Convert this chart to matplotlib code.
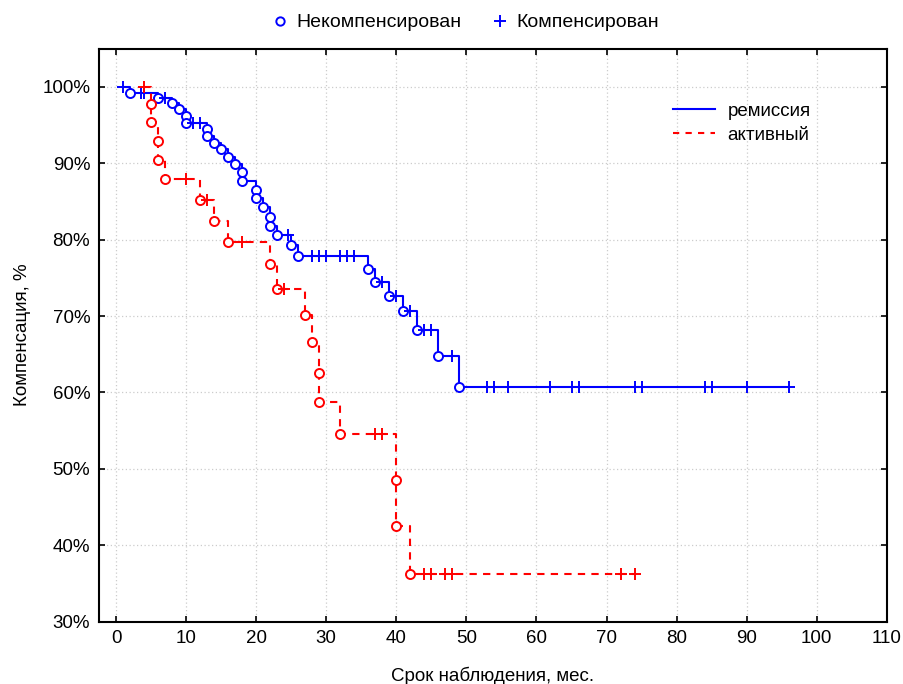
import numpy as np
import matplotlib.pyplot as plt
from matplotlib.lines import Line2D

plt.rcParams["font.family"] = ["Liberation Sans", "DejaVu Sans"]

# ремиссия (blue): event times and survival (%) after each event
blue_start, blue_end = 1, 96
blue_event_t = [2, 6, 8, 9, 10, 10, 13, 13, 14, 15, 16, 17, 18, 18, 20, 20, 21,
                22, 22, 23, 25, 26, 36, 37, 39, 41, 43, 46, 49]
blue_event_s = [99.25, 98.5, 97.85, 97.1, 96.2, 95.3, 94.45, 93.6, 92.7, 91.8,
                90.8, 89.9, 88.8, 87.7, 86.5, 85.5, 84.3, 83.0, 81.8, 80.6,
                79.3, 77.8, 76.2, 74.5, 72.6, 70.7, 68.2, 64.8, 60.7]
blue_cens_t = [1, 3.5, 4, 7, 11, 12, 24.5, 28, 29, 30, 32, 33, 34, 38, 40, 42,
               44, 45, 48, 53, 54, 56, 62, 65, 66, 74, 75, 84, 85, 90, 96]

# активный (red)
red_start, red_end = 4, 74
red_event_t = [5, 5, 6, 6, 7, 12, 14, 16, 22, 23, 27, 28, 29, 29, 32, 40, 40, 42]
red_event_s = [97.7, 95.45, 92.9, 90.4, 87.9, 85.2, 82.5, 79.7, 76.8, 73.6,
               70.1, 66.6, 62.6, 58.8, 54.6, 48.5, 42.5, 36.3]
red_cens_t = [4, 10, 13, 18, 24, 37, 38, 44, 45, 47, 48, 72, 74]

x_ticks = np.arange(0, 111, 10)
y_ticks = np.arange(30, 101, 10)


def draw_curve(ax, start, end, ev_t, ev_s, cens_t, color, ls):
    t = np.array([start] + ev_t + [end], dtype=float)
    s = np.array([100.0] + ev_s + [ev_s[-1]])
    ax.step(t, s, where="post", color=color, linestyle=ls, lw=1.5, zorder=3)
    ax.plot(ev_t, ev_s, "o", mfc="white", mec=color, mew=1.4, ms=6.5,
            ls="none", zorder=4)
    idx = np.searchsorted(np.array(ev_t), cens_t, side="right")
    levels = np.array([100.0] + ev_s)[idx]
    ax.plot(cens_t, levels, "+", color=color, mew=1.4, ms=9, ls="none",
            zorder=4)


fig = plt.figure(figsize=(9.04, 6.84), dpi=100)
ax = fig.add_axes([0.109, 0.091, 0.872, 0.838])

draw_curve(ax, blue_start, blue_end, blue_event_t, blue_event_s, blue_cens_t,
           "#0000ff", "-")
draw_curve(ax, red_start, red_end, red_event_t, red_event_s, red_cens_t,
           "#ff0000", (0, (3.5, 3)))

ax.set_xlim(-2.5, 110)
ax.set_ylim(30, 105)
ax.set_xticks(x_ticks)
ax.set_yticks(y_ticks)
ax.set_yticklabels([f"{v}%" for v in y_ticks])
ax.grid(True, color="#cccccc", linestyle=(0, (1, 2)), lw=0.9)
ax.tick_params(direction="in", length=4, width=1.2, labelsize=13.5,
               top=True, right=True, pad=6)
for sp in ax.spines.values():
    sp.set_linewidth(1.5)

ax.set_xlabel("Срок наблюдения, мес.", fontsize=13.5, labelpad=14)
ax.set_ylabel("Компенсация, %", fontsize=13.5, labelpad=8)

line_handles = [Line2D([], [], color="#0000ff", lw=1.5),
                Line2D([], [], color="#ff0000", lw=1.5, ls=(0, (3, 3)))]
ax.legend(line_handles, ["ремиссия", "активный"], loc="upper right",
          bbox_to_anchor=(0.925, 0.935), frameon=False, fontsize=13.5,
          handlelength=2.2, labelspacing=0.35, handletextpad=0.7)

mark_handles = [Line2D([], [], marker="o", mfc="white", mec="#0000ff", mew=1.4,
                       ms=6, ls="none"),
                Line2D([], [], marker="+", color="#0000ff", mew=1.4, ms=8,
                       ls="none")]
fig.legend(mark_handles, ["Некомпенсирован", "Компенсирован"], ncol=2,
           loc="center", bbox_to_anchor=(0.514, 0.967), frameon=False,
           fontsize=14, columnspacing=1.5, handlelength=1.0,
           handletextpad=0.35)

fig.savefig("out.png", dpi=100)
